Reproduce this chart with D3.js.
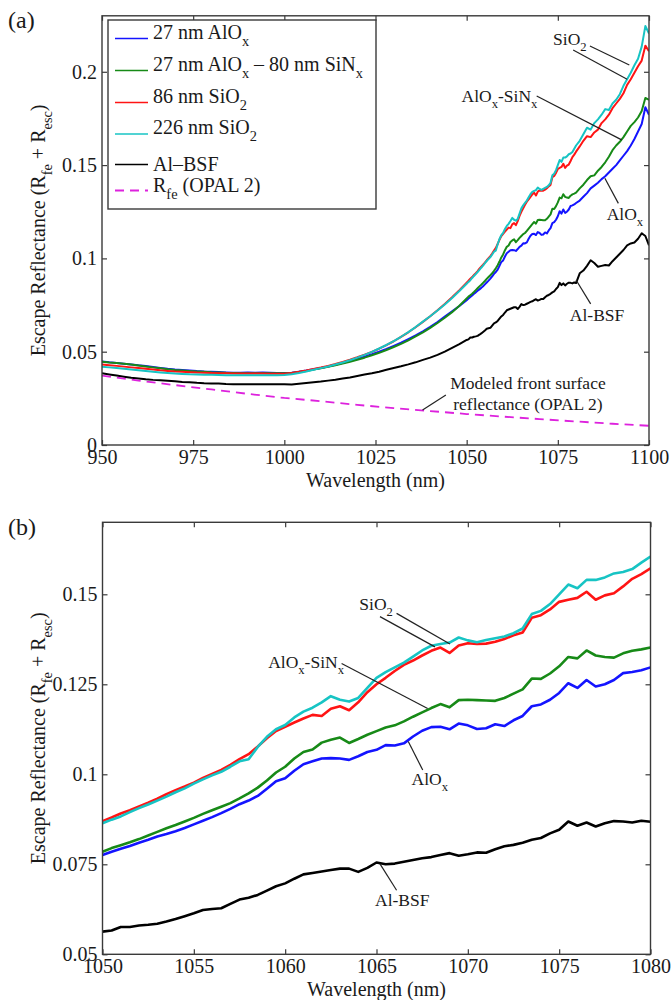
<!DOCTYPE html>
<html>
<head>
<meta charset="utf-8">
<script src="https://cdn.jsdelivr.net/npm/d3@7"></script>
<style>
  html, body { margin: 0; padding: 0; background: #fff; }
  svg { display: block; font-family: "Liberation Serif", "Times New Roman", serif; }
</style>
</head>
<body>
<svg id="chart" width="671" height="1000"></svg>
<script>
// Wavelength grid (nm): 2 nm steps to 1048, 0.5 nm steps 1050–1080, 1 nm steps to 1100
const wavelength = [
  ...d3.range(950, 1050, 2),
  ...d3.range(1050, 1080.25, 0.5),
  ...d3.range(1081, 1101, 1)
];

// Escape reflectance (R_fe + R_esc) for each rear passivation
const alox = [
  .0447,.0443,.0440,.0436,.0432,.0427,.0423,.0418,.0413,.0408,
  .0404,.0402,.0399,.0396,.0394,.0393,.0391,.0389,.0387,.0387,
  .0388,.0387,.0388,.0387,.0386,.0386,.0387,.0393,.0399,.0406,
  .0413,.0421,.0430,.0440,.0450,.0461,.0473,.0486,.0500,.0515,
  .0531,.0548,.0567,.0587,.0609,.0633,.0659,.0688,.0716,.0745,
  .0776,.0785,.0793,.0801,.0810,.0818,.0827,.0834,.0842,.0851,
  .0861,.0871,.0881,.0892,.0904,.0917,.0927,.0940,.0960,.0981,
  .0989,.1010,.1028,.1036,.1044,.1045,.1044,.1040,.1050,.1062,
  .1068,.1081,.1080,.1086,.1105,.1121,.1131,.1132,.1125,.1141,
  .1136,.1126,.1128,.1139,.1134,.1150,.1162,.1189,.1194,.1207,
  .1226,.1253,.1240,.1262,.1244,.1250,.1262,.1281,.1284,.1289,
  .1297,
  .1310,.1330,.1350,.1375,.1390,.1405,.1425,.1440,.1460,.1480,
  .1500,.1525,.1550,.1575,.1605,.1640,.1680,.1720,.1810,.1770
];

const aloxSinx = [
  .0446,.0442,.0439,.0435,.0431,.0426,.0421,.0416,.0411,.0406,
  .0402,.0399,.0396,.0394,.0392,.0390,.0389,.0387,.0386,.0385,
  .0385,.0385,.0385,.0385,.0384,.0384,.0386,.0391,.0397,.0404,
  .0411,.0419,.0427,.0436,.0446,.0457,.0468,.0481,.0494,.0509,
  .0525,.0542,.0561,.0582,.0604,.0628,.0654,.0682,.0712,.0746,
  .0785,.0795,.0803,.0811,.0820,.0830,.0840,.0850,.0859,.0869,
  .0879,.0890,.0900,.0910,.0920,.0933,.0947,.0963,.0983,.1005,
  .1021,.1044,.1062,.1069,.1088,.1096,.1102,.1087,.1098,.1110,
  .1120,.1130,.1136,.1147,.1160,.1172,.1184,.1195,.1186,.1206,
  .1207,.1206,.1205,.1204,.1212,.1224,.1236,.1266,.1265,.1280,
  .1300,.1326,.1322,.1344,.1330,.1326,.1324,.1336,.1343,.1347,
  .1352,
  .1375,.1395,.1420,.1440,.1445,.1470,.1490,.1515,.1545,.1580,
  .1605,.1625,.1650,.1680,.1710,.1730,.1755,.1790,.1860,.1850
];

const sio2Thin = [
  .0432,.0428,.0424,.0420,.0416,.0412,.0408,.0404,.0400,.0397,
  .0394,.0392,.0390,.0388,.0387,.0386,.0385,.0384,.0383,.0383,
  .0383,.0383,.0383,.0382,.0382,.0382,.0386,.0392,.0399,.0407,
  .0415,.0424,.0434,.0445,.0457,.0470,.0484,.0499,.0516,.0535,
  .0556,.0579,.0604,.0631,.0660,.0690,.0722,.0756,.0792,.0830,
  .0870,.0880,.0891,.0900,.0911,.0921,.0932,.0945,.0956,.0966,
  .0977,.0990,.1001,.1012,.1026,.1042,.1056,.1077,.1100,.1120,
  .1132,.1144,.1155,.1165,.1162,.1182,.1189,.1178,.1200,.1228,
  .1250,.1268,.1287,.1304,.1316,.1330,.1343,.1352,.1337,.1358,
  .1364,.1362,.1363,.1368,.1376,.1386,.1394,.1435,.1442,.1458,
  .1479,.1485,.1490,.1507,.1485,.1497,.1503,.1522,.1543,.1556,
  .1572,
  .1600,.1630,.1655,.1650,.1675,.1690,.1725,.1745,.1770,.1805,
  .1830,.1855,.1885,.1930,.1960,.1995,.2030,.2060,.2140,.2110
];

const sio2Thick = [
  .0420,.0416,.0412,.0408,.0404,.0400,.0396,.0392,.0389,.0386,
  .0383,.0381,.0379,.0378,.0377,.0376,.0375,.0374,.0374,.0374,
  .0374,.0374,.0374,.0374,.0374,.0375,.0379,.0386,.0394,.0403,
  .0412,.0421,.0431,.0442,.0454,.0468,.0483,.0499,.0517,.0536,
  .0557,.0580,.0605,.0632,.0661,.0690,.0721,.0753,.0788,.0825,
  .0864,.0874,.0883,.0895,.0906,.0916,.0927,.0938,.0950,.0961,
  .0974,.0986,.0997,.1007,.1021,.1036,.1042,.1076,.1104,.1125,
  .1137,.1158,.1174,.1185,.1200,.1217,.1207,.1202,.1212,.1240,
  .1268,.1284,.1297,.1310,.1327,.1344,.1357,.1362,.1366,.1380,
  .1372,.1367,.1373,.1378,.1383,.1392,.1405,.1445,.1454,.1473,
  .1500,.1527,.1517,.1540,.1540,.1547,.1558,.1562,.1570,.1588,
  .1605,
  .1630,.1665,.1700,.1690,.1725,.1745,.1770,.1800,.1795,.1830,
  .1850,.1880,.1925,.1960,.1995,.2035,.2070,.2135,.2245,.2205
];

const alBsf = [
  .0384,.0378,.0372,.0366,.0360,.0356,.0352,.0349,.0347,.0344,
  .0341,.0338,.0336,.0333,.0331,.0330,.0329,.0327,.0326,.0325,
  .0325,.0325,.0325,.0325,.0326,.0326,.0324,.0328,.0332,.0336,
  .0340,.0345,.0350,.0356,.0362,.0370,.0378,.0385,.0393,.0403,
  .0413,.0422,.0432,.0443,.0456,.0468,.0483,.0500,.0520,.0540,
  .0563,.0566,.0576,.0576,.0580,.0582,.0585,.0591,.0598,.0606,
  .0614,.0623,.0626,.0628,.0640,.0652,.0657,.0665,.0677,.0689,
  .0697,.0710,.0722,.0726,.0730,.0734,.0738,.0738,.0729,.0740,
  .0755,.0750,.0752,.0757,.0762,.0767,.0770,.0776,.0781,.0774,
  .0778,.0783,.0782,.0792,.0800,.0804,.0810,.0818,.0823,.0836,
  .0846,.0869,.0857,.0866,.0855,.0864,.0870,.0869,.0866,.0871,
  .0868,
  .0920,.0935,.0960,.0990,.0975,.0955,.0960,.0965,.0962,.0985,
  .1005,.1025,.1045,.1070,.1080,.1085,.1105,.1135,.1120,.1070
];

// Modeled front surface reflectance (OPAL 2)
const feWavelength = d3.range(950, 1101, 10);
const rfe = [.0372,.0345,.0321,.0298,.0274,.0252,.0235,.0215,.0198,.0182,.0166,.0152,.0139,.0126,.0114,.0103];

// Axis ticks
const xTicksA = [950, 975, 1000, 1025, 1050, 1075, 1100];
const xTickLabelsA = ["950", "975", "1000", "1025", "1050", "1075", "1100"];
const yTicksA = [0, 0.05, 0.1, 0.15, 0.2];
const yTickLabelsA = ["0", "0.05", "0.1", "0.15", "0.2"];
const xTicksB = [1050, 1055, 1060, 1065, 1070, 1075, 1080];
const xTickLabelsB = ["1050", "1055", "1060", "1065", "1070", "1075", "1080"];
const yTicksB = [0.05, 0.075, 0.1, 0.125, 0.15];
const yTickLabelsB = ["0.05", "0.075", "0.1", "0.125", "0.15"];

// Series styling and legend text (arrays mark subscripts)
const series = [
  { values: alox,      color: "#1414ff", label: ["27 nm AlO", ["x"]] },
  { values: aloxSinx,  color: "#178a17", label: ["27 nm AlO", ["x"], " \u2013 80 nm SiN", ["x"]] },
  { values: sio2Thin,  color: "#ff1414", label: ["86 nm SiO", ["2"]] },
  { values: sio2Thick, color: "#17c4c4", label: ["226 nm SiO", ["2"]] },
  { values: alBsf,     color: "#000000", label: ["Al\u2013BSF"] }
];
const feStyle = { color: "#dd22dd", dash: "9,6", label: ["R", ["fe"], " (OPAL 2)"] };

// Curve annotations: text position and leader lines in data units
const notesA = [
  { text: ["SiO", ["2"]], at: [1073.7, 0.2144], anchor: "start",
    lines: [[[1083.8, 0.2138], [1094.6, 0.2036]], [[1079.2, 0.2117], [1094.0, 0.1960]]] },
  { text: ["AlO", ["x"], "-SiN", ["x"]], at: [1048.6, 0.1840], anchor: "start",
    lines: [[[1069.2, 0.1870], [1092.5, 0.1635]]] },
  { text: ["AlO", ["x"]], at: [1088.4, 0.1206], anchor: "start",
    lines: [[[1087.9, 0.1429], [1091.6, 0.1295]]] },
  { text: ["Al-BSF"], at: [1078.3, 0.0665], anchor: "start",
    lines: [[[1080.0, 0.0884], [1084.0, 0.0756]]] },
  { text: ["Modeled front surface"], at: [1066.8, 0.0299], anchor: "middle", lines: [] },
  { text: ["reflectance (OPAL 2)"], at: [1066.8, 0.0188], anchor: "middle",
    lines: [[[1037.9, 0.0188], [1044.3, 0.0268]]] }
];
const notesB = [
  { text: ["SiO", ["2"]], at: [1064.06, 0.1456], anchor: "start",
    lines: [[[1066.1, 0.1447], [1069.02, 0.1362]], [[1065.19, 0.1438], [1068.2, 0.1354]]] },
  { text: ["AlO", ["x"], "-SiN", ["x"]], at: [1059.07, 0.1295], anchor: "start",
    lines: [[[1063.09, 0.1308], [1067.8, 0.1183]]] },
  { text: ["AlO", ["x"]], at: [1066.92, 0.0970], anchor: "start",
    lines: [[[1066.74, 0.1091], [1067.53, 0.1012]]] },
  { text: ["Al-BSF"], at: [1064.92, 0.0634], anchor: "start",
    lines: [[[1065.19, 0.0751], [1066.1, 0.0678]]] }
];

const svg = d3.select("#chart");
const FONT = '"Liberation Serif", "Times New Roman", serif';
const AXIS_COLOR = "#3a3a3a";
const TICK_FS = 20;

// Writes text with subscript runs as tspans
function rich(textSel, parts, fs) {
  let shift = 0;
  parts.forEach(p => {
    const isSub = Array.isArray(p);
    const target = isSub ? fs * 0.36 : 0;
    textSel.append("tspan")
      .attr("dy", target - shift)
      .style("font-size", (isSub ? fs * 0.72 : fs) + "px")
      .text(isSub ? p[0] : p);
    shift = target;
  });
}

function drawPanel(cfg) {
  const { x, y, xTicks, xLabels, yTicks, yLabels, lineWidth, notes, clipId } = cfg;
  const [x0, x1] = x.range();
  const [y0, y1] = y.range();
  const g = svg.append("g");

  g.append("clipPath").attr("id", clipId)
    .append("rect").attr("x", x0).attr("y", y1).attr("width", x1 - x0).attr("height", y0 - y1);

  // Curves
  const [wMin, wMax] = x.domain();
  const curves = g.append("g").attr("clip-path", `url(#${clipId})`);
  series.forEach(s => {
    const pts = wavelength.map((w, i) => [w, s.values[i]]).filter(d => d[0] >= wMin && d[0] <= wMax);
    curves.append("path")
      .datum(pts)
      .attr("fill", "none")
      .attr("stroke", s.color)
      .attr("stroke-width", lineWidth)
      .attr("stroke-linejoin", "round")
      .attr("d", d3.line().x(d => x(d[0])).y(d => y(d[1])));
  });
  if (cfg.showFe) {
    curves.append("path")
      .datum(feWavelength.map((w, i) => [w, rfe[i]]))
      .attr("fill", "none")
      .attr("stroke", feStyle.color)
      .attr("stroke-width", 1.8)
      .attr("stroke-dasharray", feStyle.dash)
      .attr("d", d3.line().x(d => x(d[0])).y(d => y(d[1])));
  }

  // Axes with inward ticks on all four sides
  const styleAxis = sel => {
    sel.attr("font-family", FONT).attr("font-size", TICK_FS);
    sel.selectAll(".domain").remove();
    sel.selectAll(".tick line").attr("stroke", AXIS_COLOR).attr("stroke-width", 1.2);
    sel.selectAll(".tick text").attr("fill", "#1a1a1a");
  };
  g.append("g").attr("transform", `translate(0,${y0})`)
    .call(d3.axisBottom(x).tickValues(xTicks).tickFormat((d, i) => xLabels[i])
      .tickSizeInner(-5).tickSizeOuter(0).tickPadding(5))
    .call(styleAxis);
  g.append("g").attr("transform", `translate(0,${y1})`)
    .call(d3.axisTop(x).tickValues(xTicks).tickFormat("").tickSizeInner(-5).tickSizeOuter(0))
    .call(styleAxis);
  g.append("g").attr("transform", `translate(${x0},0)`)
    .call(d3.axisLeft(y).tickValues(yTicks).tickFormat((d, i) => yLabels[i])
      .tickSizeInner(-5).tickSizeOuter(0).tickPadding(5))
    .call(styleAxis);
  g.append("g").attr("transform", `translate(${x1},0)`)
    .call(d3.axisRight(y).tickValues(yTicks).tickFormat("").tickSizeInner(-5).tickSizeOuter(0))
    .call(styleAxis);

  g.append("rect")
    .attr("x", x0).attr("y", y1).attr("width", x1 - x0).attr("height", y0 - y1)
    .attr("fill", "none").attr("stroke", AXIS_COLOR).attr("stroke-width", 1.4);

  // Axis titles
  g.append("text")
    .attr("x", (x0 + x1) / 2).attr("y", y0 + 41.5)
    .attr("text-anchor", "middle").attr("font-family", FONT).attr("font-size", 20).attr("fill", "#1a1a1a")
    .text("Wavelength (nm)");
  const yt = g.append("text")
    .attr("transform", `translate(45,${(y0 + y1) / 2}) rotate(-90)`)
    .attr("text-anchor", "middle").attr("font-family", FONT).attr("fill", "#1a1a1a");
  rich(yt, ["Escape Reflectance (R", ["fe"], " + R", ["esc"], ")"], 20);

  // Panel letter
  g.append("text").attr("x", 8).attr("y", cfg.letterY)
    .attr("font-family", FONT).attr("font-size", 24).attr("fill", "#1a1a1a")
    .text(cfg.letter);

  // Annotations
  notes.forEach(n => {
    n.lines.forEach(l => {
      g.append("line")
        .attr("x1", x(l[0][0])).attr("y1", y(l[0][1]))
        .attr("x2", x(l[1][0])).attr("y2", y(l[1][1]))
        .attr("stroke", "#222").attr("stroke-width", 1.2);
    });
    const t = g.append("text")
      .attr("x", x(n.at[0])).attr("y", y(n.at[1]))
      .attr("text-anchor", n.anchor).attr("font-family", FONT).attr("fill", "#1a1a1a");
    rich(t, n.text, 17.5);
  });

  return g;
}

// Panel (a): full spectrum with legend
const xA = d3.scaleLinear().domain([950, 1100]).range([102, 649]);
const yA = d3.scaleLinear().domain([0, 0.23]).range([445, 15.8]);
const gA = drawPanel({
  x: xA, y: yA, xTicks: xTicksA, xLabels: xTickLabelsA, yTicks: yTicksA, yLabels: yTickLabelsA,
  lineWidth: 2, notes: notesA, clipId: "clipA", showFe: true, letter: "(a)", letterY: 28
});

// Legend
const legend = gA.append("g");
legend.append("rect")
  .attr("x", 108).attr("y", 20).attr("width", 268).attr("height", 189)
  .attr("fill", "#fff").attr("stroke", AXIS_COLOR).attr("stroke-width", 1.4);
const legendRows = [
  { ...series[0], lineY: 38.5, textY: 38.5 },
  { ...series[1], lineY: 70.5, textY: 70.5 },
  { ...series[2], lineY: 102.5, textY: 102.5 },
  { ...series[3], lineY: 134, textY: 134 },
  { ...series[4], lineY: 164.5, textY: 170.5 },
  { ...feStyle, lineY: 190.5, textY: 191.5 }
];
legendRows.forEach(r => {
  legend.append("line")
    .attr("x1", 115).attr("x2", 148).attr("y1", r.lineY).attr("y2", r.lineY)
    .attr("stroke", r.color).attr("stroke-width", r.dash ? 1.8 : 1.6)
    .attr("stroke-dasharray", r.dash || null);
  const t = legend.append("text")
    .attr("x", 153).attr("y", r.textY)
    .attr("font-family", FONT).attr("fill", "#1a1a1a");
  rich(t, r.label, 20);
});

// Panel (b): close-up of 1050–1080 nm
const xB = d3.scaleLinear().domain([1050, 1080]).range([102.5, 650.5]);
const yB = d3.scaleLinear().domain([0.05, 0.17]).range([954.3, 522.3]);
drawPanel({
  x: xB, y: yB, xTicks: xTicksB, xLabels: xTickLabelsB, yTicks: yTicksB, yLabels: yTickLabelsB,
  lineWidth: 2.6, notes: notesB, clipId: "clipB", showFe: false, letter: "(b)", letterY: 535
});
</script>
</body>
</html>
